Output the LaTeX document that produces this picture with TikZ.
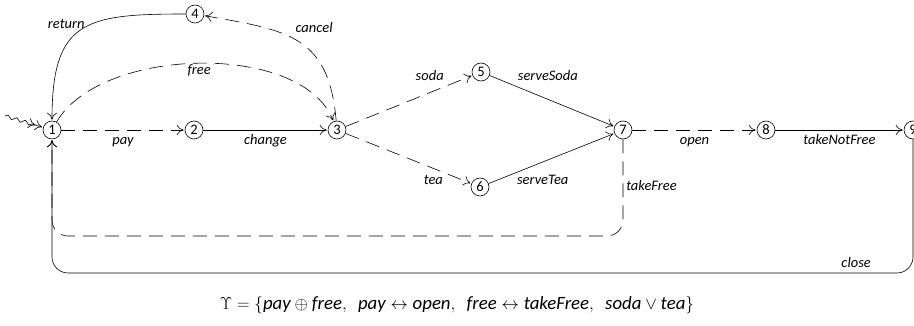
\documentclass[tikz,border=0pt]{standalone}
\usepackage{amsmath}
\usepackage{amssymb}
\usepackage{fontspec}
\setmainfont{Carlito}
\usetikzlibrary{automata, arrows.meta, decorations.pathmorphing}

\begin{document}
\begin{tikzpicture}[>={To[length=7pt,width=10pt]}, shorten >=1pt, x=1pt, y=-1pt, semithick,
    every node/.style={font=\fontsize{14.5}{17}\selectfont},
    every state/.style={draw, minimum size=18pt, inner sep=0pt},
    lbl/.style={font=\fontsize{14.5}{17}\selectfont\itshape, inner sep=3pt, text height=8pt, text depth=2pt},
    opt/.style={dash pattern=on 14pt off 8pt}]
    \useasboundingbox (0,0) rectangle (914,326);

    \node[state] (q1) at (52,130) {1};
    \node[state] (q2) at (194,130) {2};
    \node[state] (q3) at (337,130) {3};
    \node[state] (q4) at (195,14) {4};
    \node[state] (q5) at (481,72) {5};
    \node[state] (q6) at (480,187) {6};
    \node[state] (q7) at (623,130) {7};
    \node[state] (q8) at (766,130) {8};
    \node[state] (q9) at (913,130) {9};
    \coordinate (init) at (5,116);

    \draw[->>, decorate, decoration={snake, amplitude=1.8pt, segment length=9pt, post length=10pt}] (init) -- (q1);

    \path[->]
    (q1) edge[opt] node[lbl, below=3pt] {pay} (q2)
    (q2) edge node[lbl, below=3pt] {change} (q3)
    (q1) edge[opt, out=60, in=112, looseness=0.8] node[lbl, below] {free} (q3)
    (q3) edge[opt, out=95, in=-10, looseness=1.3] node[lbl, pos=0.55, above right] {cancel} (q4)
    (q4) edge[out=180, in=90, looseness=1.5] node[lbl, pos=0.45, left] {return} (q1)
    (q3) edge[opt] node[lbl, pos=0.8, above left] {soda} (q5)
    (q3) edge[opt] node[lbl, pos=0.8, below left] {tea} (q6)
    (q5) edge node[lbl, pos=0.2, anchor=south west] {serveSoda} (q7)
    (q6) edge node[lbl, pos=0.2, anchor=north west] {serveTea} (q7)
    (q7) edge[opt] node[lbl, below=3pt] {open} (q8)
    (q8) edge node[lbl, below=3pt] {takeNotFree} (q9);

    \draw[->, opt, rounded corners=16pt] (q7) -- node[lbl, right] {takeFree} ++(0,106) -| (q1);
    \draw[->, rounded corners=16pt] (q9) -- ++(0,143) -| node[lbl, above, pos=0.033] {close} (q1);

    \node[font=\fontsize{18.8}{22}\selectfont] (ups) at (457,305) {$\Upsilon = \{\textit{pay} \oplus \textit{free},\ \ \textit{pay} \leftrightarrow \textit{open},\ \ \textit{free} \leftrightarrow \textit{takeFree},\ \ \textit{soda} \vee \textit{tea}\}$};
\end{tikzpicture}
\end{document}
